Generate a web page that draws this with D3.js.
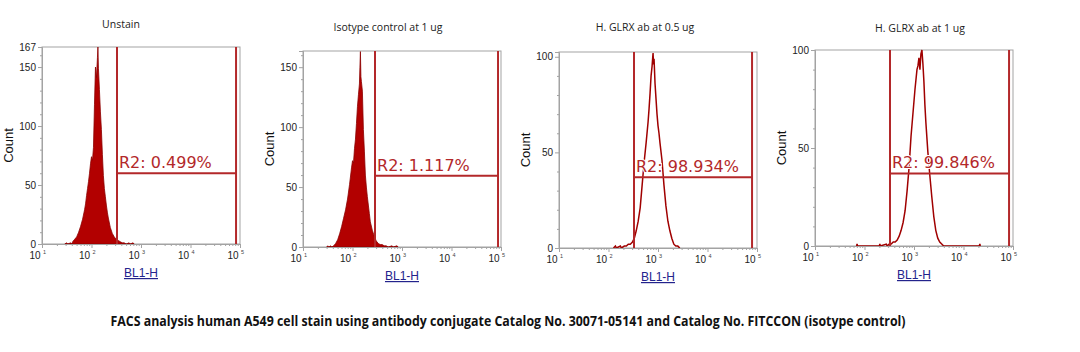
<!DOCTYPE html>
<html><head><meta charset="utf-8">
<script src="https://cdn.jsdelivr.net/npm/d3@7/dist/d3.min.js"></script>
<style>body{margin:0;background:#fff}svg{display:block}</style>
</head><body>
<svg id="c" width="1080" height="352"></svg>
<script>
// ---------- data ----------
const titles = ["Unstain", "Isotype control at 1 ug", "H. GLRX ab at 0.5 ug", "H. GLRX ab at 1 ug"];
const gateLabels = ["R2: 0.499%", "R2: 1.117%", "R2: 98.934%", "R2: 99.846%"];
const gateLow = [2.515, 2.455, 2.515, 2.515];   // log10(BL1-H)
const gateHigh = [4.92, 4.94, 4.90, 4.92];     // log10(BL1-H)
const gateCount = [60, 59.4, 37, 37];
const yMax = [167, 163.5, 102.5, 100];
const yTicks = [[0, 50, 100, 150, 167], [0, 50, 100, 150], [0, 50, 100], [0, 50, 100]];
const xDecades = [1, 2, 3, 4, 5];
const xLabel = "BL1-H";
const yLabel = "Count";
const caption = "FACS analysis human A549 cell stain using antibody conjugate Catalog No. 30071-05141 and Catalog No. FITCCON (isotype control)";

// [log10(BL1-H), count]
const unstainBins = [[1.46,0],[1.50,1],[1.52,0],[1.58,1],[1.60,0],[1.62,2],[1.66,4],[1.70,6],[1.74,10],[1.78,15],[1.82,21],[1.86,29],[1.88,34],[1.90,41],[1.92,47],[1.94,53],[1.96,60],[1.98,68],[2.00,74],[2.02,71],[2.04,82],[2.06,118],[2.08,150],[2.10,141],[2.12,158],[2.13,167],[2.14,149],[2.16,131],[2.18,112],[2.20,97],[2.22,76],[2.24,58],[2.26,47],[2.28,40],[2.30,33],[2.32,27],[2.34,22],[2.38,14],[2.42,9],[2.46,6],[2.50,4],[2.54,3],[2.58,2],[2.62,1],[2.66,1],[2.70,0],[2.76,1],[2.78,0],[2.84,1],[2.86,0]];
const isotypeBins = [[1.48,0],[1.50,1],[1.52,0],[1.56,1],[1.58,0],[1.62,1],[1.66,3],[1.70,6],[1.74,11],[1.78,17],[1.82,24],[1.86,31],[1.90,40],[1.94,52],[1.98,66],[2.00,72],[2.02,70],[2.04,82],[2.06,90],[2.08,103],[2.10,117],[2.12,127],[2.14,136],[2.15,150],[2.16,163],[2.17,142],[2.18,138],[2.20,130],[2.22,98],[2.24,80],[2.26,60],[2.28,50],[2.30,42],[2.32,35],[2.34,28],[2.36,21],[2.40,14],[2.44,9],[2.48,5],[2.52,3],[2.56,2],[2.60,2],[2.64,1],[2.68,1],[2.72,0],[2.80,1],[2.82,0],[2.90,1],[2.92,0]];
const glrxHalfBins = [[2.10,0],[2.14,1],[2.16,0],[2.24,1],[2.26,0],[2.32,1],[2.36,1],[2.40,2],[2.44,2],[2.48,3],[2.52,5],[2.56,9],[2.60,14],[2.64,21],[2.68,33],[2.72,45],[2.76,55],[2.80,66],[2.82,73],[2.84,81],[2.86,90],[2.88,95],[2.90,102],[2.91,96],[2.92,99],[2.94,86],[2.96,78],[2.98,70],[3.00,64],[3.02,60],[3.04,55],[3.08,46],[3.12,33],[3.16,22],[3.20,14],[3.24,9],[3.28,5],[3.32,2],[3.36,1],[3.40,1],[3.44,0]];
const glrxOneBins = [[1.84,0],[1.85,1],[1.86,0],[2.30,0],[2.31,1],[2.32,0],[2.44,1],[2.46,0],[2.50,1],[2.54,1],[2.58,2],[2.62,2],[2.66,3],[2.70,5],[2.74,8],[2.78,12],[2.82,18],[2.86,28],[2.90,40],[2.94,56],[2.98,68],[3.02,80],[3.06,90],[3.08,92],[3.10,96],[3.12,90],[3.14,98],[3.16,100],[3.18,93],[3.20,84],[3.22,72],[3.24,63],[3.28,48],[3.32,36],[3.36,25],[3.40,15],[3.44,8],[3.48,4],[3.52,2],[3.56,1],[3.60,0],[4.32,0],[4.33,1],[4.34,0]];
const histograms = [unstainBins, isotypeBins, glrxHalfBins, glrxOneBins];
const filled = [true, true, false, false];

// ---------- layout ----------
const plotLeft = [42, 303, 559, 815];
const plotTop = [47, 51, 52, 50];
const plotBottom = [244, 247, 248, 246];
const plotWidth = 198;
const titleX = [121, 388, 645, 920];
const titleY = [28, 31, 31, 32];

const svg = d3.select("#c");
const axisGrey = "#a3a3a3";
const gateRed = "#b3282a";

for (let p = 0; p < 4; p++) {
  const L = plotLeft[p], T = plotTop[p], B = plotBottom[p], R = L + plotWidth;
  const x = d3.scaleLog().domain([10, 1e5]).range([L, R]);
  const y = d3.scaleLinear().domain([0, yMax[p]]).range([B, T]);
  const g = svg.append("g");

  // frame
  g.append("rect").attr("x", L).attr("y", T).attr("width", R - L).attr("height", B - T)
    .attr("fill", "none").attr("stroke", axisGrey).attr("stroke-width", 1);

  // histogram
  const pts = histograms[p].map(d => [Math.pow(10, d[0]), d[1]]);
  if (filled[p]) {
    const area = d3.area().x(d => x(d[0])).y0(B).y1(d => y(d[1]));
    g.append("path").datum(pts).attr("d", area)
      .attr("fill", "#b20000").attr("stroke", "#8c0000").attr("stroke-width", 0.8);
  } else {
    const line = d3.line().x(d => x(d[0])).y(d => y(d[1]));
    g.append("path").datum(pts).attr("d", line)
      .attr("fill", "none").attr("stroke", "#a00000").attr("stroke-width", 1.5);
  }

  // y axis major
  const yAx = g.append("g").attr("transform", `translate(${L},0)`)
    .call(d3.axisLeft(y).tickValues(yTicks[p]).tickSize(4).tickPadding(2).tickFormat(d3.format("d")));
  yAx.select(".domain").attr("stroke", axisGrey);
  yAx.selectAll(".tick line").attr("stroke", axisGrey);
  yAx.selectAll(".tick text").attr("font-family", "Liberation Sans, Arial, sans-serif").attr("font-size", 10).attr("fill", "#222");
  // y minor
  const yMinor = d3.range(10, yMax[p], 10).filter(v => v % 50 !== 0);
  const yMi = g.append("g").attr("transform", `translate(${L},0)`)
    .call(d3.axisLeft(y).tickValues(yMinor).tickSize(2).tickFormat(""));
  yMi.select(".domain").remove();
  yMi.selectAll(".tick line").attr("stroke", axisGrey);

  // x axis major
  const xAx = g.append("g").attr("transform", `translate(0,${B})`)
    .call(d3.axisBottom(x).tickValues(xDecades.map(e => Math.pow(10, e))).tickSize(4).tickFormat(""));
  xAx.select(".domain").attr("stroke", axisGrey);
  xAx.selectAll(".tick line").attr("stroke", axisGrey);
  // x minor
  const xMinor = [];
  for (let e = 1; e < 5; e++) for (let m = 2; m < 10; m++) xMinor.push(m * Math.pow(10, e));
  const xMi = g.append("g").attr("transform", `translate(0,${B})`)
    .call(d3.axisBottom(x).tickValues(xMinor).tickSize(2).tickFormat(""));
  xMi.select(".domain").remove();
  xMi.selectAll(".tick line").attr("stroke", axisGrey);
  // x labels 10^e
  xDecades.forEach(e => {
    const px = x(Math.pow(10, e));
    g.append("text").attr("x", px - 1.5).attr("y", B + 15).attr("text-anchor", "end")
      .attr("font-family", "Liberation Sans, Arial, sans-serif").attr("font-size", 10).attr("fill", "#222").text("10");
    g.append("text").attr("x", px + 1).attr("y", B + 10)
      .attr("font-family", "Liberation Sans, Arial, sans-serif").attr("font-size", 5.5).attr("fill", "#444").text(e);
  });

  // gates
  const gx1 = x(Math.pow(10, gateLow[p])), gx2 = x(Math.pow(10, gateHigh[p])), gy = y(gateCount[p]);
  g.append("line").attr("x1", gx1).attr("x2", gx1).attr("y1", T).attr("y2", B).attr("stroke", gateRed).attr("stroke-width", 2);
  g.append("line").attr("x1", gx2).attr("x2", gx2).attr("y1", T).attr("y2", B).attr("stroke", gateRed).attr("stroke-width", 2);
  g.append("line").attr("x1", gx1).attr("x2", gx2).attr("y1", gy).attr("y2", gy).attr("stroke", gateRed).attr("stroke-width", 2);
  g.append("text").attr("x", gx1 + 2).attr("y", gy - 5)
    .attr("font-family", "DejaVu Sans, Verdana, sans-serif").attr("font-size", 16).attr("fill", gateRed)
    .attr("stroke", "#fff").attr("stroke-width", 2).attr("paint-order", "stroke")
    .text(gateLabels[p]);

  // title
  g.append("text").attr("x", titleX[p]).attr("y", titleY[p]).attr("text-anchor", "middle")
    .attr("font-family", "Open Sans, sans-serif").attr("font-size", 10.5).attr("fill", "#222").text(titles[p]);

  // axis labels
  g.append("text").attr("transform", `translate(${L - 29},${(T + B) / 2}) rotate(-90)`).attr("text-anchor", "middle")
    .attr("font-family", "Liberation Sans, Arial, sans-serif").attr("font-size", 13).attr("fill", "#111").text(yLabel);
  g.append("text").attr("x", (L + R) / 2).attr("y", B + 33).attr("text-anchor", "middle")
    .attr("font-family", "Liberation Sans, Arial, sans-serif").attr("font-size", 12).attr("fill", "#23238c")
    .attr("text-decoration", "underline").text(xLabel);
}

svg.append("text").attr("x", 508).attr("y", 326).attr("text-anchor", "middle")
  .attr("font-family", "Liberation Sans Narrow, Open Sans, sans-serif").attr("font-weight", "bold")
  .attr("font-size", 13.5).attr("fill", "#111")
  .attr("textLength", 795).attr("lengthAdjust", "spacingAndGlyphs").text(caption);
</script>
</body></html>
